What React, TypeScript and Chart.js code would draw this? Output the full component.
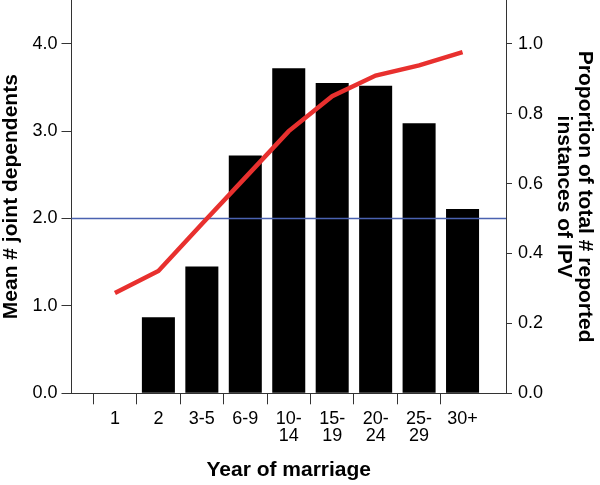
import React, { useEffect, useRef } from "react";
import { Chart, registerables } from "chart.js";

Chart.register(...registerables);

const categories: (string | string[])[] = [
  "",
  "1",
  "2",
  "3-5",
  "6-9",
  ["10-", "14"],
  ["15-", "19"],
  ["20-", "24"],
  ["25-", "29"],
  "30+",
  "",
];
const meanDependents: (number | null)[] = [null, null, 0.87, 1.45, 2.72, 3.72, 3.55, 3.52, 3.09, 2.11, null];
const proportionIPV: (number | null)[] = [null, 0.287, 0.35, 0.484, 0.617, 0.75, 0.85, 0.909, 0.938, 0.976, null];
const referenceLine: number[] = [2, 2, 2, 2, 2, 2, 2, 2, 2, 2, 2];
const leftTicks = [0, 1, 2, 3, 4];
const rightTicks = [0, 0.2, 0.4, 0.6, 0.8, 1.0];

const FONT = "'Liberation Sans', Arial, sans-serif";
const AXIS = "#333333";

export default function App() {
  const ref = useRef<HTMLCanvasElement | null>(null);
  useEffect(() => {
    document.body.style.margin = "0";
    const ctx = ref.current!;
    const chart = new Chart(ctx, {
      type: "bar",
      data: {
        labels: categories,
        datasets: [
          {
            type: "line",
            label: "Reference",
            data: referenceLine,
            yAxisID: "y",
            borderColor: "#4a62b0",
            borderWidth: 1.5,
            pointRadius: 0,
            order: 1,
          },
          {
            type: "line",
            label: "Proportion of IPV",
            data: proportionIPV,
            yAxisID: "y1",
            borderColor: "#e8302e",
            borderWidth: 4.5,
            pointRadius: 0,
            tension: 0,
            order: 0,
          },
          {
            type: "bar",
            label: "Mean # joint dependents",
            data: meanDependents,
            yAxisID: "y",
            backgroundColor: "#000000",
            barPercentage: 0.76,
            categoryPercentage: 1,
            order: 2,
          },
        ],
      },
      options: {
        animation: false,
        responsive: false,
        maintainAspectRatio: false,
        layout: { padding: { top: 0, left: 0, right: 0, bottom: 0 } },
        plugins: { legend: { display: false }, tooltip: { enabled: false } },
        scales: {
          x: {
            type: "category",
            offset: false,
            grid: {
              display: true,
              drawOnChartArea: false,
              drawTicks: true,
              tickLength: 11,
              lineWidth: 1,
              color: (c: any) => (c.index === 0 || c.index === categories.length - 1 ? "rgba(0,0,0,0)" : AXIS),
              tickColor: (c: any) => (c.index === 0 || c.index === categories.length - 1 ? "rgba(0,0,0,0)" : AXIS),
            },
            border: { display: true, color: AXIS, width: 1 },
            ticks: {
              color: "#000",
              font: { family: FONT, size: 18, lineHeight: 0.95 },
              padding: 6,
              maxRotation: 0,
              minRotation: 0,
              autoSkip: false,
            },
            title: {
              display: true,
              text: "Year of marriage",
              color: "#000",
              font: { family: FONT, size: 21, weight: "bold", lineHeight: 1 },
              padding: { top: 0, bottom: 4.5 },
            },
            afterFit: (s: any) => {
              s.height = 91.7;
              s.paddingLeft = 0;
              s.paddingRight = 0;
            },
          },
          y: {
            position: "left",
            min: 0,
            max: 4.5,
            grid: { display: true, drawOnChartArea: false, drawTicks: true, tickLength: 10, color: AXIS },
            border: { display: true, color: AXIS, width: 1 },
            afterBuildTicks: (s: any) => {
              s.ticks = leftTicks.map((v) => ({ value: v }));
            },
            ticks: {
              color: "#000",
              font: { family: FONT, size: 18 },
              padding: 4,
              callback: (v: any) => Number(v).toFixed(1),
            },
            title: {
              display: true,
              text: "Mean # joint dependents",
              color: "#000",
              font: { family: FONT, size: 21, weight: "bold", lineHeight: 1 },
              padding: { top: 0.5, bottom: 0 },
            },
            afterFit: (s: any) => {
              s.width = 71.5;
              s.paddingTop = 0;
              s.paddingBottom = 0;
            },
          },
          y1: {
            position: "right",
            min: 0,
            max: 1.125,
            grid: { display: true, drawOnChartArea: false, drawTicks: true, tickLength: 6, color: AXIS },
            border: { display: true, color: AXIS, width: 1 },
            afterBuildTicks: (s: any) => {
              s.ticks = rightTicks.map((v) => ({ value: v }));
            },
            ticks: {
              color: "#000",
              font: { family: FONT, size: 18 },
              padding: 6,
              callback: (v: any) => Number(v).toFixed(1),
            },
            title: {
              display: true,
              text: ["Proportion of total # reported", "instances of IPV"],
              color: "#000",
              font: { family: FONT, size: 21, weight: "bold", lineHeight: 1 },
              padding: { top: 4.5, bottom: 0 },
            },
            afterFit: (s: any) => {
              s.width = 94;
              s.paddingTop = 0;
              s.paddingBottom = 0;
            },
          },
        },
      },
    } as any);
    return () => chart.destroy();
  }, []);
  return (
    <div style={{ position: "absolute", left: 0, top: 0, width: 600, height: 485, background: "#fff" }}>
      <canvas ref={ref} width={600} height={485} style={{ width: 600, height: 485 }} />
    </div>
  );
}
